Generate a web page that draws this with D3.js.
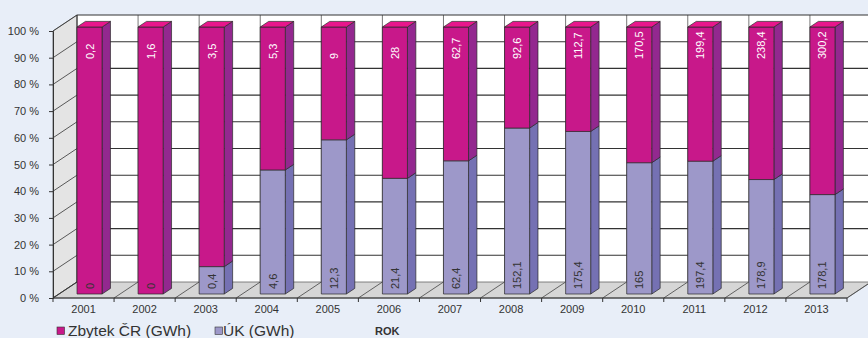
<!DOCTYPE html>
<html>
<head>
<meta charset="utf-8">
<script src="https://cdn.jsdelivr.net/npm/d3@7"></script>
<style>
  html, body { margin: 0; padding: 0; background: #e8eef8; }
  svg { display: block; }
  svg text { font-family: "Liberation Sans", Arial, sans-serif; }
</style>
</head>
<body>
<svg id="chart" width="868" height="338"></svg>
<script>
// Years and the two series (GWh)
const years = ["2001","2002","2003","2004","2005","2006","2007","2008","2009","2010","2011","2012","2013"];
const zbytek = [0.2, 1.6, 3.5, 5.3, 9, 28, 62.7, 92.6, 112.7, 170.5, 199.4, 238.4, 300.2];
const uk = [0, 0, 0.4, 4.6, 12.3, 21.4, 62.4, 152.1, 175.4, 165, 197.4, 178.9, 178.1];
const yTicks = [0, 0.1, 0.2, 0.3, 0.4, 0.5, 0.6, 0.7, 0.8, 0.9, 1.0];
const seriesNames = ["Zbytek ČR (GWh)", "ÚK (GWh)"];
const axisTitle = "ROK";

const colors = {
  zb: { front: "#c8188a", side: "#93288f", top: "#e8168c" },
  uk: { front: "#9d98c9", side: "#7571b3", top: "#b3aee0" }
};

const svg = d3.select("#chart");

// Front plane scales, plus a depth offset for the 3D look
const x = d3.scaleBand().domain(years).range([53, 847]).padding(0);
const y = d3.scaleLinear().domain([0, 1]).range([298, 31]);
const DX = 24, DY = -16;
const P = (px, v, f) => [px + f * DX, y(v) + f * DY];
const poly = pts => "M" + pts.map(p => p.join(",")).join("L") + "Z";

const x0 = x.range()[0], x1 = x.range()[1];

// Back wall
svg.append("path")
  .attr("d", poly([P(x0, 0, 1), P(x0, 1, 1), P(x1, 1, 1), P(x1, 0, 1)]))
  .attr("fill", "#ffffff");

// Left side wall
svg.append("path")
  .attr("d", poly([P(x0, 0, 0), P(x0, 1, 0), P(x0, 1, 1), P(x0, 0, 1)]))
  .attr("fill", "#e4e4e4").attr("stroke", "#555").attr("stroke-width", 0.8);

// Floor
svg.append("path")
  .attr("d", poly([P(x0, 0, 0), P(x1, 0, 0), P(x1, 0, 1), P(x0, 0, 1)]))
  .attr("fill", "#d6d6d6").attr("stroke", "#666").attr("stroke-width", 0.8);

// Vertical gridlines on the back wall and diagonals on the floor at category boundaries
const bounds = years.map(d => x(d)).concat([x1]);
bounds.forEach((bx, i) => {
  if (i > 0) {
    const a = P(bx, 0, 1), b = P(bx, 1, 1);
    svg.append("line").attr("x1", a[0]).attr("y1", a[1]).attr("x2", b[0]).attr("y2", b[1])
      .attr("stroke", "#777").attr("stroke-width", 1);
  }
  const c = P(bx, 0, 0), e = P(bx, 0, 1);
  svg.append("line").attr("x1", c[0]).attr("y1", c[1]).attr("x2", e[0]).attr("y2", e[1])
    .attr("stroke", "#444").attr("stroke-width", 0.8);
});

// Horizontal gridlines: back wall and side wall
yTicks.forEach(t => {
  if (t > 0) {
    const a = P(x0, t, 1), b = P(x1 + 30, t, 1);
    svg.append("line").attr("x1", a[0]).attr("y1", a[1]).attr("x2", b[0]).attr("y2", b[1])
      .attr("stroke", "#333").attr("stroke-width", 1.1);
  }
  const c = P(x0, t, 0), e = P(x0, t, 1);
  svg.append("line").attr("x1", c[0]).attr("y1", c[1]).attr("x2", e[0]).attr("y2", e[1])
    .attr("stroke", "#333").attr("stroke-width", 0.8);
});
// Back wall left edge
{
  const a = P(x0, 0, 1), b = P(x0, 1, 1);
  svg.append("line").attr("x1", a[0]).attr("y1", a[1]).attr("x2", b[0]).attr("y2", b[1])
    .attr("stroke", "#333").attr("stroke-width", 1);
}

// Bars: 100 % stacks, ÚK at the bottom, Zbytek ČR on top
const barW = x.bandwidth() * 0.41;
const fFront = 0.25, fBack = 0.6;
const fmt = v => String(v).replace(".", ",");

const rows = years.map((yr, i) => {
  const tot = zbytek[i] + uk[i];
  const ukShare = uk[i] / tot;
  return { yr, uk: uk[i], zb: zbytek[i], segs: [
    { key: "uk", v0: 0, v1: ukShare },
    { key: "zb", v0: ukShare, v1: 1 }
  ]};
});

const bars = svg.append("g");
rows.forEach(r => {
  const bx = x(r.yr) + (x.bandwidth() - barW) / 2;
  const g = bars.append("g");
  r.segs.forEach((s, si) => {
    if (s.v1 - s.v0 <= 0) return;
    const c = colors[s.key];
    // side face
    g.append("path")
      .attr("d", poly([P(bx + barW, s.v0, fFront), P(bx + barW, s.v1, fFront), P(bx + barW, s.v1, fBack), P(bx + barW, s.v0, fBack)]))
      .attr("fill", c.side).attr("stroke", "#2a2a2a").attr("stroke-width", 0.7);
    // front face
    g.append("path")
      .attr("d", poly([P(bx, s.v0, fFront), P(bx, s.v1, fFront), P(bx + barW, s.v1, fFront), P(bx + barW, s.v0, fFront)]))
      .attr("fill", c.front).attr("stroke", "#2a2a2a").attr("stroke-width", 0.7);
    // top face on the topmost segment
    if (si === r.segs.length - 1) {
      g.append("path")
        .attr("d", poly([P(bx, s.v1, fFront), P(bx + barW, s.v1, fFront), P(bx + barW, s.v1, fBack), P(bx, s.v1, fBack)]))
        .attr("fill", c.top).attr("stroke", "#2a2a2a").attr("stroke-width", 0.7);
    }
  });
  const cx = bx + barW / 2 + fFront * DX;
  // value label of Zbytek ČR, near the top of the bar
  const topY = y(1) + fFront * DY + 32;
  g.append("text")
    .attr("transform", `translate(${cx},${topY}) rotate(-90)`)
    .attr("text-anchor", "start").attr("dy", "0.36em")
    .attr("font-size", 11).attr("fill", "#ffffff")
    .text(fmt(r.zb));
  // value label of ÚK, near the bottom of the bar
  const botY = y(0) + fFront * DY - 5;
  g.append("text")
    .attr("transform", `translate(${cx},${botY}) rotate(-90)`)
    .attr("text-anchor", "start").attr("dy", "0.36em")
    .attr("font-size", 11).attr("fill", "#333")
    .text(fmt(r.uk));
});

// Y axis on the front plane
const yAxis = d3.axisLeft(y).tickValues(yTicks)
  .tickFormat(d => Math.round(d * 100) + " %").tickSize(4).tickPadding(10);
const ya = svg.append("g").attr("transform", `translate(${x0},0)`).call(yAxis);
ya.attr("font-family", null);
ya.select(".domain").attr("stroke", "#333");
ya.selectAll(".tick line").attr("stroke", "#333");
ya.selectAll(".tick text").attr("font-size", 11).attr("fill", "#333");

// X axis on the front plane: ticks at category boundaries, labels centred
svg.append("line").attr("x1", x0).attr("y1", y(0)).attr("x2", x1).attr("y2", y(0))
  .attr("stroke", "#333").attr("stroke-width", 1);
bounds.forEach(bx => {
  svg.append("line").attr("x1", bx).attr("y1", y(0)).attr("x2", bx).attr("y2", y(0) + 4)
    .attr("stroke", "#333").attr("stroke-width", 1);
});
svg.append("g").selectAll("text").data(years).join("text")
  .attr("x", d => x(d) + x.bandwidth() / 2)
  .attr("y", 313)
  .attr("text-anchor", "middle").attr("font-size", 11).attr("fill", "#333")
  .text(d => d);

// Legend
const legend = svg.append("g");
const legendItems = [
  { name: seriesNames[0], color: colors.zb.front, sx: 57, tx: 68 },
  { name: seriesNames[1], color: colors.uk.front, sx: 215, tx: 223 }
];
legendItems.forEach(it => {
  legend.append("rect").attr("x", it.sx).attr("y", 327).attr("width", 7.5).attr("height", 7.5)
    .attr("fill", it.color).attr("stroke", "#333").attr("stroke-width", 0.6);
  legend.append("text").attr("x", it.tx).attr("y", 336).attr("font-size", 15.5).attr("fill", "#333")
    .text(it.name);
});
svg.append("text").attr("x", 375).attr("y", 335).attr("font-size", 11).attr("font-weight", "bold")
  .attr("fill", "#333").text(axisTitle);
</script>
</body>
</html>
